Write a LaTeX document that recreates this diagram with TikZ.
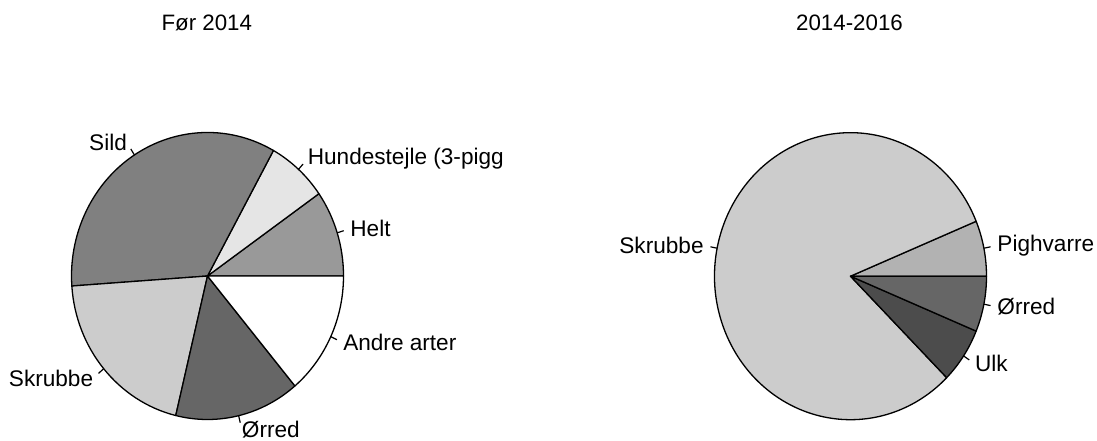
\documentclass[tikz,border=0pt]{standalone}
\usepackage{fontspec}
\setmainfont{Liberation Sans}
\usetikzlibrary{calc}
\begin{document}
\begin{tikzpicture}[x=1pt,y=1pt,
  slice/.style={draw=black,line width=1.3pt,line join=round},
  tick/.style={draw=black,line width=1.2pt},
  lbl/.style={inner sep=0pt,font=\fontsize{22.6}{26}\selectfont},
  ttl/.style={inner sep=0pt,anchor=base,font=\fontsize{22.3}{26}\selectfont}]
\useasboundingbox (0,0) rectangle (1097,-441);
\fill[white] (0,0) rectangle (1097,-441);
\def\rx{136}\def\ry{143.5}
% ---------- left pie
\coordinate (L) at (207.5,-276);
\filldraw[slice,fill=black!40] (L) -- ++(0:\rx pt and \ry pt) arc[start angle=0,end angle=35,x radius=\rx,y radius=\ry] -- cycle;
\filldraw[slice,fill=black!10] (L) -- ++(35:\rx pt and \ry pt) arc[start angle=35,end angle=61,x radius=\rx,y radius=\ry] -- cycle;
\filldraw[slice,fill=black!50] (L) -- ++(61:\rx pt and \ry pt) arc[start angle=61,end angle=184,x radius=\rx,y radius=\ry] -- cycle;
\filldraw[slice,fill=black!20] (L) -- ++(184:\rx pt and \ry pt) arc[start angle=184,end angle=256.5,x radius=\rx,y radius=\ry] -- cycle;
\filldraw[slice,fill=black!60] (L) -- ++(256.5:\rx pt and \ry pt) arc[start angle=256.5,end angle=310,x radius=\rx,y radius=\ry] -- cycle;
\filldraw[slice,fill=white] (L) -- ++(310:\rx pt and \ry pt) arc[start angle=310,end angle=360,x radius=\rx,y radius=\ry] -- cycle;
% ticks and labels left
\foreach \nm/\a/\anc/\txt in {helt/17.5/west/Helt, hund/48/west/{Hundestejle (3-pigg}, sild/122.5/east/Sild, skrL/220.25/east/Skrubbe, orrL/283.25/west/Ørred, andre/335/west/Andre arter}{
  \coordinate (\nm a) at ($(L)+(\a:\rx pt and \ry pt)$);
  \coordinate (\nm b) at ($(L)+(\a:1.05*\rx pt and 1.05*\ry pt)$);
  \draw[tick] (\nm a) -- (\nm b);
  \node[lbl,anchor=\anc] (\nm) at ($(L)+(\a:1.1*\rx pt and 1.1*\ry pt)$) {\txt};
}
% ---------- right pie
\coordinate (R) at (850.5,-276.2);
\filldraw[slice,fill=black!30] (R) -- ++(0:\rx pt and \ry pt) arc[start angle=0,end angle=22.5,x radius=\rx,y radius=\ry] -- cycle;
\filldraw[slice,fill=black!20] (R) -- ++(22.5:\rx pt and \ry pt) arc[start angle=22.5,end angle=315,x radius=\rx,y radius=\ry] -- cycle;
\filldraw[slice,fill=black!70] (R) -- ++(315:\rx pt and \ry pt) arc[start angle=315,end angle=337.5,x radius=\rx,y radius=\ry] -- cycle;
\filldraw[slice,fill=black!60] (R) -- ++(337.5:\rx pt and \ry pt) arc[start angle=337.5,end angle=360,x radius=\rx,y radius=\ry] -- cycle;
\foreach \nm/\a/\anc/\txt in {pigh/11.25/west/Pighvarre, skrR/168.75/east/Skrubbe, ulk/326.25/west/Ulk, orrR/348.75/west/Ørred}{
  \coordinate (\nm a) at ($(R)+(\a:\rx pt and \ry pt)$);
  \coordinate (\nm b) at ($(R)+(\a:1.05*\rx pt and 1.05*\ry pt)$);
  \draw[tick] (\nm a) -- (\nm b);
  \node[lbl,anchor=\anc] (\nm) at ($(R)+(\a:1.1*\rx pt and 1.1*\ry pt)$) {\txt};
}
% titles
\node[ttl] (t1) at (206.8,-30.7) {Før 2014};
\node[ttl] (t2) at (849.5,-30.7) {2014-2016};
\end{tikzpicture}
\end{document}
